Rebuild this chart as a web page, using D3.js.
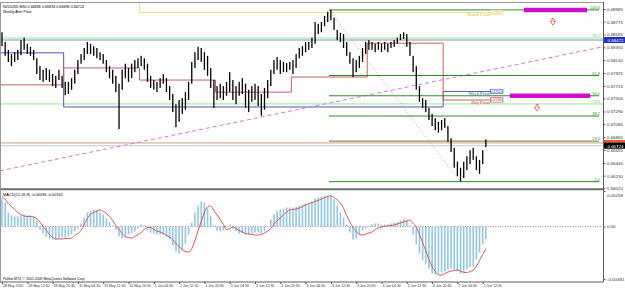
<!DOCTYPE html>
<html>
<head>
<meta charset="utf-8">
<script src="https://cdn.jsdelivr.net/npm/d3@7"></script>
<style>
html, body { margin: 0; padding: 0; background: #fff; }
svg { display: block; font-family: "Liberation Sans", Arial, sans-serif; }
</style>
</head>
<body>
<svg id="chart"></svg>
<script>
// NZDUSD, hourly bars (28 May 2010 -> 7 Jun 2010)
const barHigh = [
  0.6860,0.6844,0.6831,0.6824,0.6827,0.6831,0.6847,0.6851,0.6841,0.6836,
  0.6831,0.6817,0.6804,0.6798,0.6801,0.6798,0.6791,0.6788,0.6798,0.6788,
  0.6778,0.6778,0.6784,0.6798,0.6814,0.6824,0.6834,0.6844,0.6841,0.6837,
  0.6834,0.6827,0.6824,0.6814,0.6804,0.6798,0.6788,0.6775,0.6798,0.6808,
  0.6801,0.6808,0.6814,0.6817,0.6821,0.6817,0.6808,0.6788,0.6781,0.6778,
  0.6784,0.6791,0.6784,0.6771,0.6758,0.6741,0.6748,0.6751,0.6761,0.6778,
  0.6811,0.6827,0.6836,0.6834,0.6827,0.6821,0.6801,0.6781,0.6771,0.6775,
  0.6771,0.6778,0.6794,0.6781,0.6771,0.6778,0.6784,0.6775,0.6765,0.6771,
  0.6775,0.6771,0.6758,0.6768,0.6781,0.6798,0.6814,0.6819,0.6814,0.6811,
  0.6809,0.6811,0.6814,0.6824,0.6834,0.6837,0.6844,0.6844,0.6851,0.6877,
  0.6874,0.6877,0.6887,0.6894,0.6897,0.6884,0.6864,0.6859,0.6857,0.6844,
  0.6827,0.6817,0.6814,0.6821,0.6834,0.6844,0.6847,0.6844,0.6841,0.6844,
  0.6841,0.6844,0.6841,0.6844,0.6847,0.6851,0.6857,0.6860,0.6857,0.6844,
  0.6821,0.6804,0.6771,0.6751,0.6748,0.6735,0.6725,0.6718,0.6712,0.6715,
  0.6718,0.6705,0.6685,0.6669,0.6646,0.6636,0.6646,0.6655,0.6665,0.6669,
  0.6655,0.6649,0.6665,0.6683
];
const barLow = [
  0.6837,0.6821,0.6811,0.6804,0.6811,0.6814,0.6822,0.6831,0.6824,0.6821,
  0.6814,0.6791,0.6781,0.6778,0.6781,0.6778,0.6771,0.6768,0.6781,0.6768,
  0.6756,0.6758,0.6765,0.6775,0.6791,0.6808,0.6814,0.6824,0.6824,0.6821,
  0.6817,0.6814,0.6808,0.6794,0.6784,0.6775,0.6761,0.6700,0.6765,0.6784,
  0.6778,0.6784,0.6794,0.6801,0.6804,0.6798,0.6778,0.6768,0.6765,0.6761,
  0.6768,0.6775,0.6761,0.6748,0.6728,0.6703,0.6712,0.6725,0.6732,0.6748,
  0.6775,0.6801,0.6814,0.6811,0.6798,0.6788,0.6768,0.6735,0.6748,0.6751,
  0.6748,0.6755,0.6761,0.6748,0.6741,0.6755,0.6758,0.6735,0.6728,0.6745,
  0.6748,0.6738,0.6722,0.6732,0.6751,0.6771,0.6791,0.6798,0.6791,0.6794,
  0.6794,0.6798,0.6791,0.6801,0.6817,0.6821,0.6827,0.6831,0.6834,0.6841,
  0.6857,0.6860,0.6870,0.6877,0.6880,0.6864,0.6847,0.6844,0.6834,0.6821,
  0.6808,0.6786,0.6794,0.6801,0.6811,0.6824,0.6831,0.6831,0.6827,0.6831,
  0.6827,0.6831,0.6827,0.6834,0.6836,0.6841,0.6847,0.6849,0.6836,0.6821,
  0.6794,0.6765,0.6745,0.6735,0.6728,0.6715,0.6705,0.6698,0.6694,0.6698,
  0.6702,0.6679,0.6662,0.6636,0.6622,0.6613,0.6619,0.6632,0.6642,0.6649,
  0.6632,0.6626,0.6642,0.6670
];
// MACD(12,26,9), in points (0.00001)
const macdMain = [
  204,175,102,80,73,73,80,87,80,80,
  73,44,-22,-51,-73,-87,-95,-95,-87,-80,
  -80,-73,-58,-36,-15,22,65,102,116,124,
  116,102,87,58,29,7,-22,-73,-87,-80,
  -58,-51,-36,-15,15,7,-29,-44,-51,-58,
  -58,-58,-73,-95,-138,-182,-196,-175,-124,-58,
  29,102,153,182,175,131,73,7,-29,-36,
  -29,-7,15,-15,-36,-51,-51,-58,-58,-51,
  -44,-44,-51,-36,0,51,87,116,124,131,
  138,138,138,145,153,160,167,167,182,204,
  211,218,218,225,225,196,153,102,65,15,
  -44,-95,-87,-58,-29,-15,0,15,22,22,
  15,15,15,22,29,36,44,51,44,7,
  -58,-131,-196,-247,-276,-305,-342,-349,-342,-334,
  -327,-313,-305,-313,-327,-342,-334,-313,-298,-291,
  -240,-189,-131,-93
];
const macdSignal = [
  218,196,167,145,124,102,87,76,73,73,
  69,58,33,0,-29,-58,-80,-91,-91,-91,
  -87,-87,-84,-65,-51,-29,15,58,87,102,
  113,120,109,95,73,44,7,-22,-51,-73,
  -80,-84,-73,-58,-44,-22,-7,-7,-22,-33,
  -40,-51,-65,-76,-95,-124,-145,-167,-182,-185,
  -160,-102,-29,36,102,142,149,116,84,51,
  15,-22,-15,-4,-15,-29,-40,-51,-55,-58,
  -62,-62,-58,-47,-33,-15,15,44,62,84,
  105,120,124,127,134,145,156,167,174,182,
  189,200,211,218,222,211,193,171,131,80,
  33,-7,-36,-58,-62,-55,-47,-40,-22,-11,
  -4,0,4,7,11,18,25,33,40,47,
  22,-4,-58,-116,-174,-240,-291,-327,-349,-353,
  -342,-331,-324,-320,-316,-324,-334,-334,-327,-316,
  -291,-247,-204,-162
];
const timeLabels = ["28 May 2010","28 May 12:30","28 May 20:30","31 May 04:30","31 May 12:30",
  "31 May 20:30","1 Jun 04:30","1 Jun 12:30","1 Jun 20:30","2 Jun 04:30","2 Jun 12:30",
  "2 Jun 20:30","3 Jun 04:30","3 Jun 12:30","3 Jun 20:30","4 Jun 04:30","4 Jun 12:30",
  "4 Jun 20:30","7 Jun 04:30","7 Jun 12:30"];
const priceTicks = [0.68985,0.68775,0.68565,0.68350,0.68140,0.67925,0.67715,0.67505,
  0.67290,0.67080,0.66865,0.66655,0.66440,0.66230,0.66020];
const macdTicks = [258, 0, -381];

// pivot step lines: [from bar, to bar, price]
const dayPivot = [[-2,19.5,0.6773],[19.5,43.5,0.6801],[43.5,67.5,0.6781],[67.5,91.5,0.6761],
  [91.5,115.5,0.6786],[115.5,139.5,0.6842],[139.5,158.4,0.6748]];
const weekPivot = [[-2,19.5,0.6826],[19.5,139.5,0.67365],[139.5,158.4,0.6762]];
const monthPivot = [[-2,43.5,0.6950],[43.5,158.4,0.68927]];

// fibonacci retracement 3 Jun high -> 7 Jun low
const fibHigh = { i: 103.4, p: 0.6897 };
const fibLow = { i: 144.8, p: 0.6613 };
const fibRatios = [0, 23.6, 38.2, 50, 61.8, 100];
const targetZones = [[100, 165, 185], [50, 160.6, 186]];
const downArrows = [[174.2, 0.6877], [169.2, 0.6735]];
const trendLine = [[-0.6, 0.6631], [190, 0.6836]];
const levelLines = [[0.68506, "#90ee90", "38.2"], [0.67415, "#90ee90", "23.6"]];
const lastBid = 0.66724;

const W = 625, H = 289, axisX = 603;
const svg = d3.select("#chart").attr("width", W).attr("height", H);

const x = d3.scaleLinear().domain([0, 152]).range([2, 482.7]);
const y = d3.scaleLinear().domain([0.66025, 0.69084]).range([188, 3]);
const yM = d3.scaleLinear().domain([-396, 265]).range([281, 190]);

const defs = svg.append("defs");
defs.append("clipPath").attr("id", "clipMain")
  .append("rect").attr("x", 1).attr("y", 3).attr("width", axisX - 1).attr("height", 185);
defs.append("clipPath").attr("id", "clipMacd")
  .append("rect").attr("x", 1).attr("y", 190).attr("width", axisX - 1).attr("height", 91);

const main = svg.append("g").attr("clip-path", "url(#clipMain)");

// full width level lines
levelLines.forEach(d => {
  main.append("line").attr("x1", 0).attr("x2", axisX).attr("y1", y(d[0])).attr("y2", y(d[0]))
    .attr("stroke", d[1]).attr("stroke-width", 1);
});
main.append("line").attr("x1", 0).attr("x2", axisX).attr("y1", y(0.68472)).attr("y2", y(0.68472))
  .attr("stroke", "#8090cc").attr("stroke-width", 1);
main.append("line").attr("x1", 0).attr("x2", axisX).attr("y1", y(0.66770)).attr("y2", y(0.66770))
  .attr("stroke", "#c8a080").attr("stroke-width", 1);
main.append("line").attr("x1", 0).attr("x2", axisX).attr("y1", y(lastBid)).attr("y2", y(lastBid))
  .attr("stroke", "#c8c8c8").attr("stroke-width", 1);

// pivots
function stepPoints(segs) {
  const pts = segs.map(s => [s[0], s[2]]);
  const last = segs[segs.length - 1];
  pts.push([last[1], last[2]]);
  return pts;
}
const stepLine = d3.line().x(d => x(d[0])).y(d => y(d[1])).curve(d3.curveStepAfter);
main.append("path").attr("d", stepLine(stepPoints(monthPivot)))
  .attr("fill", "none").attr("stroke", "#f2e27a").attr("stroke-width", 1);
main.append("path").attr("d", stepLine(stepPoints(weekPivot)))
  .attr("fill", "none").attr("stroke", "#5058b0").attr("stroke-width", 1);
main.append("path").attr("d", stepLine(stepPoints(dayPivot)))
  .attr("fill", "none").attr("stroke", "#c86060").attr("stroke-width", 1);

// trend line
main.append("line")
  .attr("x1", x(trendLine[0][0])).attr("y1", y(trendLine[0][1]))
  .attr("x2", x(trendLine[1][0])).attr("y2", y(trendLine[1][1]))
  .attr("stroke", "#d478dc").attr("stroke-width", 1).attr("stroke-dasharray", "4,3");

// fibo
const fibPrice = r => fibLow.p + (fibHigh.p - fibLow.p) * r / 100;
main.append("line")
  .attr("x1", x(fibHigh.i)).attr("y1", y(fibHigh.p))
  .attr("x2", x(fibLow.i)).attr("y2", y(fibLow.p))
  .attr("stroke", "#d89898").attr("stroke-width", 1).attr("stroke-dasharray", "1,2");
fibRatios.forEach(r => {
  main.append("line").attr("x1", x(fibHigh.i)).attr("x2", 599)
    .attr("y1", y(fibPrice(r))).attr("y2", y(fibPrice(r)))
    .attr("stroke", r === 23.6 ? "#6f7a2a" : "#2e8a2e").attr("stroke-width", 1);
});
targetZones.forEach(z => {
  main.append("line").attr("x1", x(z[1])).attr("x2", x(z[2]))
    .attr("y1", y(fibPrice(z[0]))).attr("y2", y(fibPrice(z[0])))
    .attr("stroke", "#cc10cc").attr("stroke-width", 4.5);
});
downArrows.forEach(a => {
  main.append("path")
    .attr("transform", `translate(${x(a[0])},${y(a[1])})`)
    .attr("d", "M-1,-3.5 h2 v3 h1.6 l-2.6,3.6 l-2.6,-3.6 h1.6 z")
    .attr("fill", "#fff").attr("stroke", "#e03030").attr("stroke-width", 0.7);
});

// price bars
main.selectAll(".bar").data(barHigh).enter().append("rect")
  .attr("class", "bar")
  .attr("x", (d, i) => x(i) - 0.65)
  .attr("width", 1.3)
  .attr("y", d => y(d))
  .attr("height", (d, i) => Math.max(1, y(barLow[i]) - y(d)))
  .attr("fill", "#000");

// labels over lines
const lbl = svg.append("g");
fibRatios.forEach(r => {
  lbl.append("text").attr("x", 600).attr("y", y(fibPrice(r)) - 0.8)
    .attr("text-anchor", "end").attr("font-size", 4).attr("fill", "#2e8a2e")
    .text(r.toFixed(1));
});
levelLines.forEach(d => {
  lbl.append("text").attr("x", 600).attr("y", y(d[0]) - 0.8)
    .attr("text-anchor", "end").attr("font-size", 4).attr("fill", "#70d070").text(d[2]);
});
const pivotTags = [["Month Pivot", monthPivot[1][2], "#d8c040", "#f0e070"],
  ["Week Pivot", weekPivot[2][2], "#3040b0", "#4050c0"],
  ["Day Pivot", dayPivot[6][2], "#d03030", "#d04040"]];
pivotTags.forEach(t => {
  const py = y(t[1]);
  lbl.append("text").attr("x", 489.8).attr("y", py + 3.6).attr("text-anchor", "end")
    .attr("font-family", "Liberation Serif, serif").attr("font-size", 4.6)
    .attr("fill", t[2]).text(t[0]);
  lbl.append("rect").attr("x", 490.5).attr("y", py - 2.3).attr("width", 12.5).attr("height", 4.4)
    .attr("fill", "#fff").attr("stroke", t[3]).attr("stroke-width", 0.6);
  lbl.append("text").attr("x", 496.8).attr("y", py + 1.3).attr("text-anchor", "middle")
    .attr("font-size", 3.3).attr("fill", t[2]).text(t[1].toFixed(5));
});

// titles
svg.append("text").attr("x", 3).attr("y", 7.5).attr("font-size", 3.7)
  .text("NZDUSD,M30  0.66696 0.66834 0.66696 0.66724");
svg.append("text").attr("x", 3).attr("y", 12.5).attr("font-size", 3.5)
  .text("Weekly After Pivot");

// MACD panel
const macd = svg.append("g").attr("clip-path", "url(#clipMacd)");
macd.append("line").attr("x1", 0).attr("x2", axisX).attr("y1", yM(0)).attr("y2", yM(0))
  .attr("stroke", "#c06060").attr("stroke-width", 0.8).attr("stroke-dasharray", "1,1.5");
macd.selectAll(".hist").data(macdMain).enter().append("rect")
  .attr("class", "hist")
  .attr("x", (d, i) => x(i) - 0.8)
  .attr("width", 1.6)
  .attr("y", d => Math.min(yM(d), yM(0)))
  .attr("height", d => Math.abs(yM(d) - yM(0)))
  .attr("fill", "#92c8e6");
macd.append("path")
  .attr("d", d3.line().x((d, i) => x(i)).y(d => yM(d)).curve(d3.curveMonotoneX)(macdSignal))
  .attr("fill", "none").attr("stroke", "#d04848").attr("stroke-width", 0.9);
svg.append("text").attr("x", 3).attr("y", 196).attr("font-size", 3.9)
  .text("MACD(12,26,9) -0.00093 -0.00162");
svg.append("text").attr("x", 3).attr("y", 279.5).attr("font-size", 3.4)
  .text("Pollino MT4, \u00a9 2001-2009 MetaQuotes Software Corp.");

// frame
const frame = svg.append("g").attr("fill", "none");
frame.append("rect").attr("x", 0.5).attr("y", 2.5).attr("width", axisX).attr("height", 186)
  .attr("stroke", "#9a9a9a");
frame.append("line").attr("x1", 0).attr("x2", axisX + 0.5).attr("y1", 189.5).attr("y2", 189.5)
  .attr("stroke", "#707070").attr("stroke-width", 1.5);
frame.append("line").attr("x1", 0).attr("x2", axisX + 0.5).attr("y1", 282).attr("y2", 282)
  .attr("stroke", "#606060").attr("stroke-width", 1.2);
frame.append("line").attr("x1", 0.5).attr("x2", 0.5).attr("y1", 189).attr("y2", 282)
  .attr("stroke", "#9a9a9a");
frame.append("line").attr("x1", axisX + 0.5).attr("x2", axisX + 0.5).attr("y1", 2).attr("y2", 282)
  .attr("stroke", "#606060");

// price axis
const yAxis = svg.append("g").attr("transform", `translate(${axisX + 0.5},0)`)
  .call(d3.axisRight(y).tickValues(priceTicks).tickSize(2).tickPadding(1.5)
    .tickFormat(d3.format(".5f")));
yAxis.select(".domain").remove();
yAxis.selectAll("text").attr("font-size", 4.4).attr("font-family", "Liberation Sans, Arial")
  .attr("fill", "#333");
yAxis.selectAll("line").attr("stroke", "#555");

// highlighted price tags (the orange one is mostly covered by the bid tag)
function priceTag(p, bg, fg, withText) {
  const g = svg.append("g").attr("transform", `translate(${axisX + 1},${y(p)})`);
  g.append("rect").attr("x", 0).attr("y", -3).attr("width", 22).attr("height", 6).attr("fill", bg);
  if (withText) {
    g.append("text").attr("x", 3.5).attr("y", 1.8).attr("font-size", 4.4).attr("fill", fg)
      .text(p.toFixed(5));
  }
}
priceTag(0.68472, "#2030c8", "#fff", true);
priceTag(0.66770, "#e06030", "#fff", false);
priceTag(lastBid, "#000", "#fff", true);

// macd axis
const mAxis = svg.append("g").attr("transform", `translate(${axisX + 0.5},0)`)
  .call(d3.axisRight(yM).tickValues(macdTicks).tickSize(2).tickPadding(1.5)
    .tickFormat(d => d === 0 ? "0.00" : (d / 1e5).toFixed(5)));
mAxis.select(".domain").remove();
mAxis.selectAll("text").attr("font-size", 4.4).attr("font-family", "Liberation Sans, Arial")
  .attr("fill", "#333");
mAxis.selectAll(".tick").filter(d => d === 258).select("text").attr("dy", "1.3em");
mAxis.selectAll("line").attr("stroke", "#555");

// time axis
const xAxis = svg.append("g").attr("transform", "translate(0,282)")
  .call(d3.axisBottom(x).tickValues(d3.range(0, 153, 8)).tickSize(2).tickPadding(1)
    .tickFormat((d, k) => timeLabels[k]));
xAxis.select(".domain").remove();
xAxis.selectAll("text").attr("text-anchor", "start").attr("dx", 0.5)
  .attr("font-size", 3.5).attr("font-family", "Liberation Sans, Arial").attr("fill", "#333");
xAxis.selectAll("line").attr("stroke", "#555");
</script>
</body>
</html>
